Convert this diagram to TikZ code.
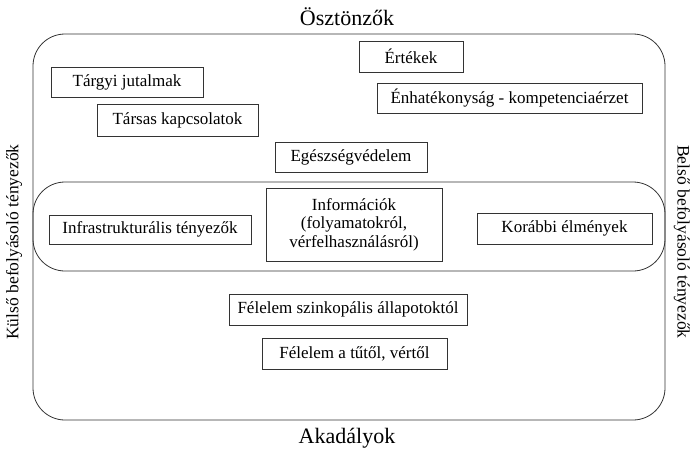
\documentclass[tikz,border=0pt]{standalone}
\usepackage{fontspec}
\setmainfont{Liberation Serif}
\begin{document}
\begin{tikzpicture}[x=1pt,y=-1pt,
  box/.style={draw=black!80,line width=0.8pt,fill=white,inner sep=1pt,font=\fontsize{17}{18.5}\selectfont},
  frame/.style={draw=black!80,line width=0.8pt,rounded corners=32pt}]
\useasboundingbox (0,0) rectangle (692,455);
% keretek
\draw[frame] (33,34) rectangle (665,420);
\draw[frame] (33,182) rectangle (665,271);
% feliratok
\node[font=\fontsize{22}{24}\selectfont] (Fel) at (347,17) {Ösztönzők};
\node[font=\fontsize{22}{24}\selectfont] (Akad) at (347,438) {Akadályok};
\node[rotate=90,font=\fontsize{17.5}{20}\selectfont] (Kul) at (14,242) {Külső befolyásoló tényezők};
\node[rotate=-90,font=\fontsize{17.5}{20}\selectfont] (Bel) at (682,242) {Belső befolyásoló tényezők};
% dobozok
\node[box,minimum width=152pt,minimum height=30pt] (B1) at (127,82) {Tárgyi jutalmak};
\node[box,minimum width=161pt,minimum height=32pt] (B2) at (177.5,120) {Társas kapcsolatok};
\node[box,minimum width=152pt,minimum height=30pt] (B3) at (351,157) {Egészségvédelem};
\node[box,minimum width=104pt,minimum height=31pt] (B4) at (411,56.5) {Értékek};
\node[box,minimum width=265pt,minimum height=30pt] (B5) at (509.5,98) {Énhatékonyság - kompetenciaérzet};
\node[box,minimum width=176pt,minimum height=73pt,align=center] (B6) at (354,224.5) {Információk\\(folyamatokról,\\vérfelhasználásról)};
\node[box,minimum width=202pt,minimum height=29pt] (B7) at (150,229.5) {Infrastrukturális tényezők};
\node[box,minimum width=175pt,minimum height=31pt] (B8) at (564.5,228.5) {Korábbi élmények};
\node[box,minimum width=238pt,minimum height=31pt] (B9) at (348,309.5) {Félelem szinkopális állapotoktól};
\node[box,minimum width=185pt,minimum height=31pt] (B10) at (354.5,353.5) {Félelem a tűtől, vértől};
\end{tikzpicture}
\end{document}
